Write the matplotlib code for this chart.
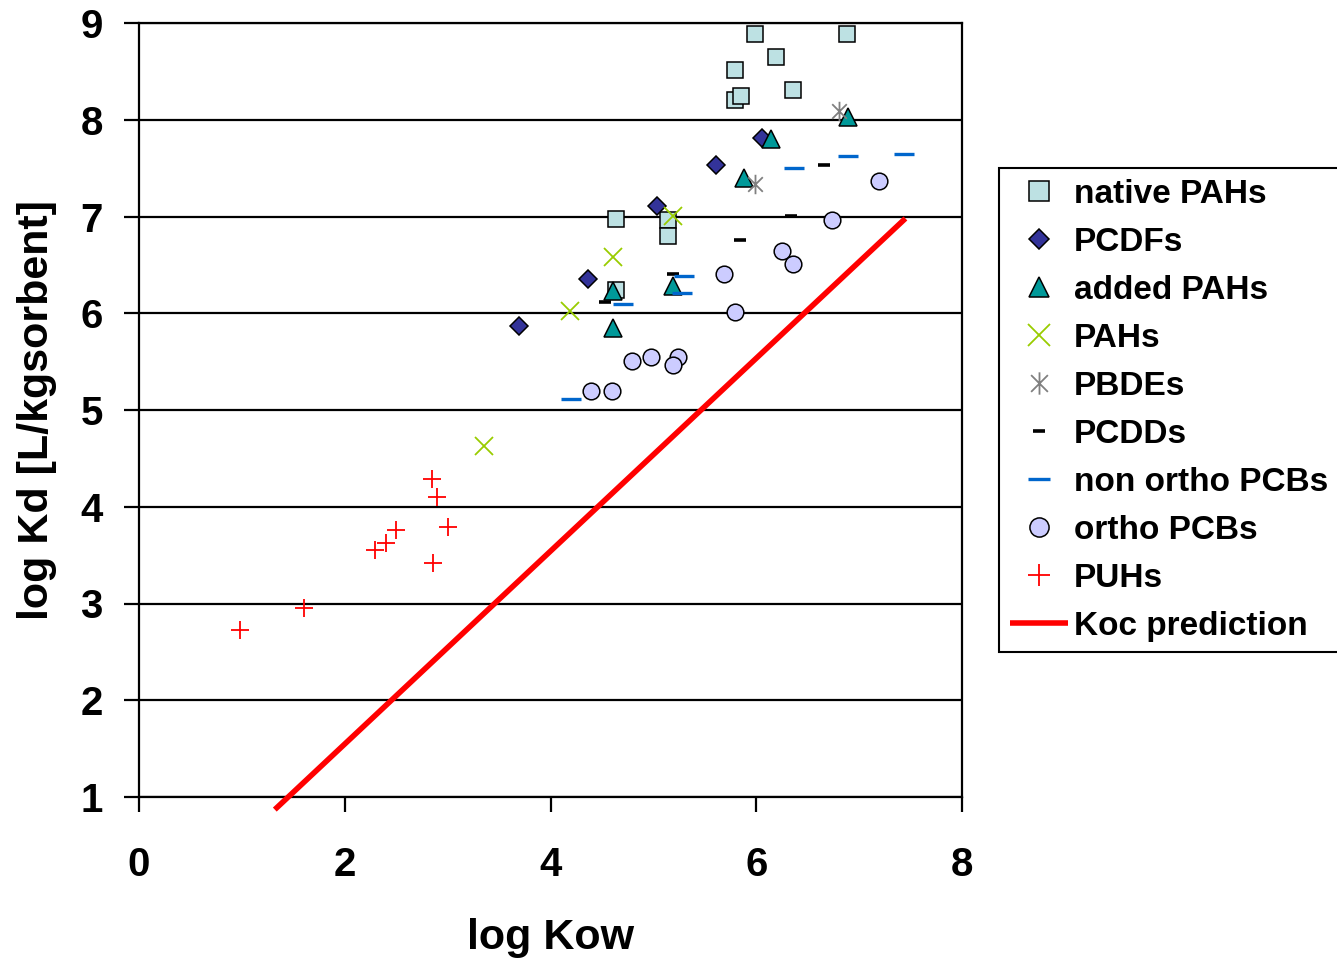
import matplotlib
matplotlib.use("Agg")
import matplotlib.pyplot as plt
from matplotlib.path import Path
import numpy as np

plt.rcParams['font.family'] = ['Liberation Sans', 'DejaVu Sans']
plt.rcParams['font.weight'] = 'bold'

# Sorption data: log Kow (x) vs log Kd (y) per compound class
native_pahs_x = [5.99, 6.88, 5.79, 6.19, 5.79, 5.85, 6.36, 4.64, 5.14, 5.14, 4.64]
native_pahs_y = [8.89, 8.89, 8.51, 8.65, 8.20, 8.25, 8.31, 6.97, 6.96, 6.80, 6.24]

pcdfs_x = [3.69, 4.36, 5.04, 5.61, 6.06]
pcdfs_y = [5.87, 6.35, 7.11, 7.53, 7.81]

added_pahs_x = [6.14, 5.88, 6.89, 4.61, 4.61, 5.19]
added_pahs_y = [7.80, 7.40, 8.03, 6.23, 5.85, 6.28]

pahs_x = [3.35, 4.19, 4.61, 5.19]
pahs_y = [4.63, 6.02, 6.58, 7.01]

pbdes_x = [6.80, 5.99]
pbdes_y = [8.09, 7.34]

pcdds_x = [6.66, 6.34, 5.84, 5.19, 4.53]
pcdds_y = [7.53, 7.01, 6.76, 6.41, 6.12]

non_ortho_pcbs_x = [6.37, 6.89, 7.44, 5.30, 5.28, 4.70, 4.20]
non_ortho_pcbs_y = [7.50, 7.63, 7.65, 6.38, 6.21, 6.10, 5.11]

ortho_pcbs_x = [7.19, 6.74, 6.25, 6.36, 5.69, 5.79, 4.79, 4.98, 5.24, 5.19, 4.39, 4.60]
ortho_pcbs_y = [7.37, 6.96, 6.64, 6.51, 6.41, 6.01, 5.51, 5.55, 5.55, 5.46, 5.20, 5.20]

puhs_x = [0.98, 1.60, 2.85, 2.90, 3.00, 2.50, 2.40, 2.29, 2.86]
puhs_y = [2.73, 2.95, 4.29, 4.10, 3.79, 3.76, 3.63, 3.55, 3.42]

koc_x = [1.32, 7.45]
koc_y = [0.87, 6.98]

x_ticks = [0, 2, 4, 6, 8]
y_ticks = [1, 2, 3, 4, 5, 6, 7, 8, 9]

# Asterisk marker: vertical bar plus a diagonal cross
ast_verts = [(0, -1), (0, 1), (-0.75, -0.75), (0.75, 0.75), (-0.75, 0.75), (0.75, -0.75)]
ast_codes = [Path.MOVETO, Path.LINETO] * 3
asterisk = Path(ast_verts, ast_codes)

fig = plt.figure(figsize=(13.37, 9.61), dpi=100)
ax = fig.add_axes([139 / 1337, 1 - 797 / 961, 823 / 1337, 774 / 961])

ax.set_xlim(0, 8)
ax.set_ylim(1, 9)

for yv in y_ticks:
    ax.axhline(yv, color='black', lw=1.6, zorder=1)

edge = dict(markeredgecolor='black', markeredgewidth=1.1, linestyle='none')
ax.plot(native_pahs_x, native_pahs_y, marker='s', ms=12, markerfacecolor='#BDE1E3',
        label='native PAHs', zorder=3, **edge)
ax.plot(pcdfs_x, pcdfs_y, marker='D', ms=9, markerfacecolor='#333399',
        label='PCDFs', zorder=3, **edge)
ax.plot(added_pahs_x, added_pahs_y, marker='^', ms=12.5, markerfacecolor='#009999',
        label='added PAHs', zorder=3, **edge)
ax.plot(pahs_x, pahs_y, marker='x', ms=13.5, color='#99CC00', markeredgewidth=1.3,
        linestyle='none', label='PAHs', zorder=3)
ax.plot(pbdes_x, pbdes_y, marker=asterisk, ms=14, color='#808080', markeredgewidth=1.3,
        linestyle='none', label='PBDEs', zorder=3)
ax.plot(pcdds_x, pcdds_y, marker='_', ms=8, color='black', markeredgewidth=2.6,
        linestyle='none', label='PCDDs', zorder=3)
ax.plot(non_ortho_pcbs_x, non_ortho_pcbs_y, marker='_', ms=14, color='#0066CC',
        markeredgewidth=2.4, linestyle='none', label='non ortho PCBs', zorder=3)
ax.plot(ortho_pcbs_x, ortho_pcbs_y, marker='o', ms=12, markerfacecolor='#CCCCFF',
        label='ortho PCBs', zorder=3, **edge)
ax.plot(puhs_x, puhs_y, marker='+', ms=13.5, color='#FF0000', markeredgewidth=1.3,
        linestyle='none', label='PUHs', zorder=3)
ax.plot(koc_x, koc_y, color='#FF0000', lw=4, solid_capstyle='butt',
        label='Koc prediction', zorder=4, clip_on=False)

ax.set_xticks(x_ticks)
ax.set_yticks(y_ticks)
ax.tick_params(axis='both', direction='out', length=11, width=1.6, color='black',
               labelsize=29)
ax.tick_params(axis='x', pad=24)
ax.tick_params(axis='y', pad=15)
for lab in ax.get_xticklabels() + ax.get_yticklabels():
    lab.set_fontweight('bold')

for side in ['left', 'right', 'bottom', 'top']:
    ax.spines[side].set_linewidth(1.6)
    ax.spines[side].set_color('black')

ax.set_xlabel('log Kow', fontsize=31, fontweight='bold', labelpad=25)
ax.set_ylabel('log Kd [L/kgsorbent]', fontsize=31, fontweight='bold', labelpad=17)

leg = ax.legend(loc='upper left', bbox_to_anchor=(999 / 1337, 1 - 168 / 961),
                bbox_transform=fig.transFigure, borderaxespad=0,
                frameon=True, fancybox=False, shadow=False, framealpha=1,
                edgecolor='black', handlelength=1.75, handletextpad=0.18,
                labelspacing=0.51, borderpad=0.32, markerscale=1.15,
                prop={'weight': 'bold', 'size': 24})
leg.get_frame().set_linewidth(1.5)

fig.savefig('out.png', dpi=100)
